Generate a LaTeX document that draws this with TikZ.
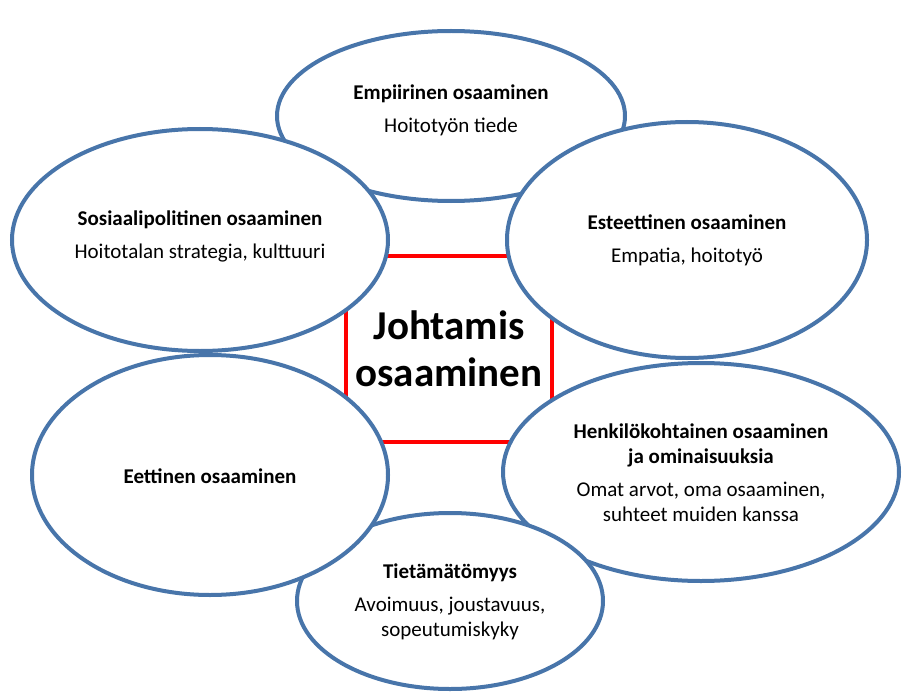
\documentclass[tikz,border=0pt]{standalone}
\usepackage{fontspec}
\setmainfont{Carlito}
\usetikzlibrary{shapes.geometric}
\definecolor{oval}{RGB}{72,117,170}
\definecolor{redline}{RGB}{255,0,0}
\tikzset{
  oval/.style={ellipse, draw=oval, line width=4pt, fill=white, inner sep=0pt},
  ovaltext/.style={inner sep=0pt, align=center, font=\fontsize{21}{25}\selectfont},
  core/.style={rectangle, draw=redline, line width=3.5pt, fill=white, inner sep=0pt, align=center,
    font=\fontsize{41}{47}\selectfont\bfseries},
}
\newcommand{\hd}[1]{\textbf{#1}}
\begin{document}
\begin{tikzpicture}[x=1pt,y=-1pt]
\useasboundingbox (0,0) rectangle (902,698);
\node[core, minimum width=206pt, minimum height=186pt] (core) at (449,349) {Johtamis\\osaaminen};
\node[oval, minimum width=348pt, minimum height=170pt] (emp) at (451,116) {};
\node[ovaltext] (emp-t) at ([yshift=6pt]emp.center)
  {\hd{Empiirinen osaaminen}\\[8pt]Hoitotyön tiede};
\node[oval, minimum width=376pt, minimum height=222pt] (sos) at (200,240) {};
\node[ovaltext] (sos-t) at ([yshift=4pt]sos.center)
  {\hd{Sosiaalipolitinen osaaminen}\\[8pt]Hoitotalan strategia, kulttuuri};
\node[oval, minimum width=360pt, minimum height=236pt] (est) at (687,240) {};
\node[ovaltext] (est-t) at (est.center)
  {\hd{Esteettinen osaaminen}\\[8pt]Empatia, hoitotyö};
\node[oval, minimum width=396pt, minimum height=218pt] (hen) at (701,472) {};
\node[ovaltext] (hen-t) at ([yshift=-1pt]hen.center)
  {\hd{Henkilökohtainen osaaminen}\\\hd{ja ominaisuuksia}\\[8pt]Omat arvot, oma osaaminen,\\suhteet muiden kanssa};
\node[oval, minimum width=306pt, minimum height=176pt] (tie) at (450,601) {};
\node[ovaltext] (tie-t) at ([yshift=-1pt]tie.center)
  {\hd{Tietämätömyys}\\[8pt]Avoimuus, joustavuus,\\sopeutumiskyky};
\node[oval, minimum width=356pt, minimum height=240pt] (eet) at (210,475) {};
\node[ovaltext] (eet-t) at ([yshift=-1pt]eet.center) {\hd{Eettinen osaaminen}};
\end{tikzpicture}
\end{document}
